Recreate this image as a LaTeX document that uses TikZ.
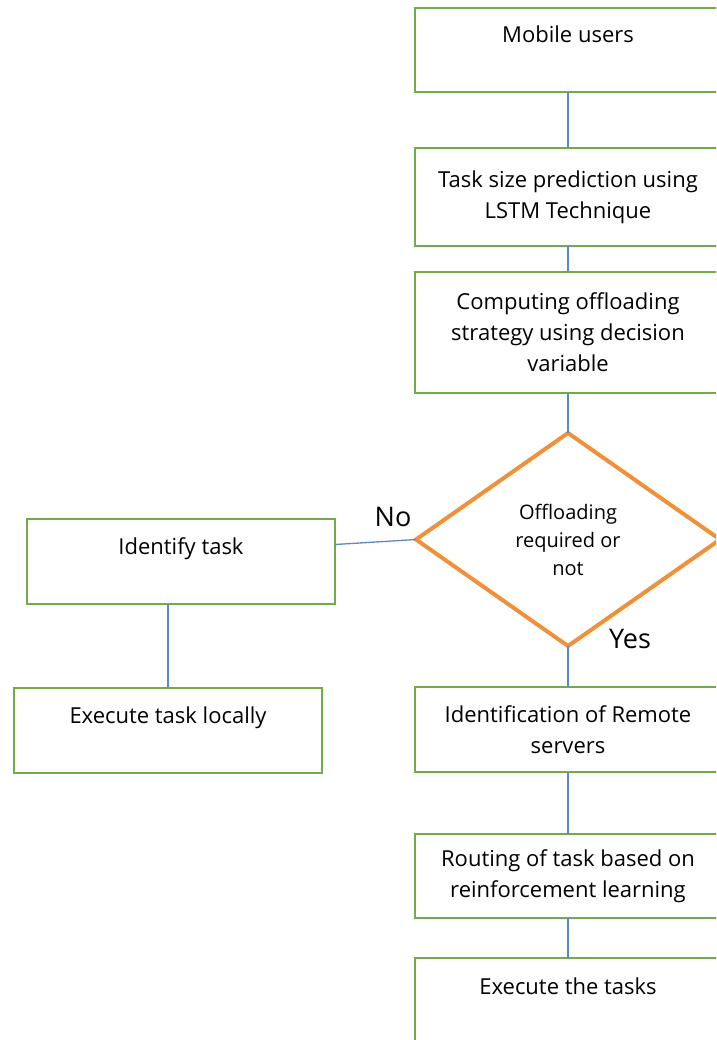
\documentclass[tikz,border=0pt]{standalone}
\usepackage{fontspec}
\setmainfont{Open Sans}
\usepackage{xcolor}
\definecolor{Leaf Green}{HTML}{70ad47}
\definecolor{Steel Blue}{HTML}{5b87c5}
\definecolor{Pumpkin}{HTML}{f0913a}
\colorlet{cGreen}{Leaf Green}
\colorlet{cBlue}{Steel Blue}
\colorlet{cOrange}{Pumpkin}
\usetikzlibrary{shapes.geometric, positioning}
\tikzset{
	x=1pt, y=-1pt,
	font = \fontsize{22}{31}\selectfont,
	block/.style={
		draw=cGreen,
		rectangle,
		line width=1.5pt,
		align=center,
		minimum width=306pt,
		inner sep=0pt,
		outer sep=0pt
	},
	decision/.style={
		draw=cOrange,
		diamond,
		line width=4pt,
		align=center,
		minimum width=304pt,
		minimum height=213pt,
		inner sep=0pt,
		outer sep=0pt,
		font=\fontsize{20}{28}\selectfont
	},
	link/.style={
		draw=cBlue,
		line width=1.3pt
	},
	answer/.style={
		font=\fontsize{27}{30}\selectfont
	}
}

\begin{document}
\begin{tikzpicture}
		\clip (0,0) rectangle (716,1040);
% ---
% main column
% ---
\node[block, minimum height=84pt] at (568,50) (mob) {Mobile users\\ ~};
\node[block, minimum height=98pt, below=56pt of mob] (task) {Task size prediction using\\LSTM Technique};
\node[block, minimum height=121pt, below=26pt of task] (comp) {Computing offloading\\strategy using decision\\variable};
\node[decision, below=40pt of comp] (dec) {Offloading\\required or\\not};
\node[block, minimum height=85pt, below=41pt of dec] (rem) {Identification of Remote\\servers};
\node[block, minimum height=84pt, below=62pt of rem] (route) {Routing of task based on\\reinforcement learning};
\node[block, minimum height=88pt, below=40pt of route] (exec) {Execute the tasks\\ ~};

% ---
% local branch
% ---
\node[block, minimum width=308pt, minimum height=85pt] at (181,561.5) (ident) {Identify task\\ ~};
\node[block, minimum width=308pt, minimum height=85pt] at (168,730.5) (local) {Execute task locally\\ ~};

\node[answer] at (393,517) (no) {No};
\node[answer] at (630,639) (yes) {Yes};

\draw[link] (mob) to (task);
\draw[link] (task) to (comp);
\draw[link] (comp) to (dec);
\draw[link] (dec) to (rem);
\draw[link] (rem) to (route);
\draw[link] (route) to (exec);
\draw[link] (dec.west) to ([yshift=17pt]ident.east);
\draw[link] (ident.south -| local.north) to (local.north);
	\end{tikzpicture}
\end{document}
